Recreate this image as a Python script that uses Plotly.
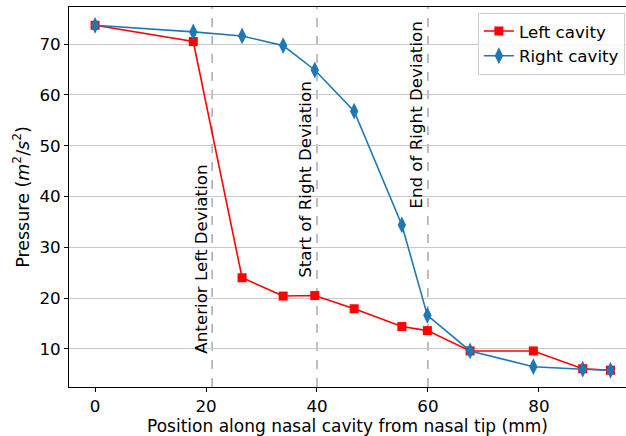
import plotly.graph_objects as go

pos = [0, 17.7, 26.5, 33.9, 39.6, 46.7, 55.3, 59.9, 67.6, 79.0, 87.9, 92.9]
left_cavity = [73.7, 70.5, 24.0, 20.4, 20.5, 17.9, 14.4, 13.6, 9.6, 9.6, 6.1, 5.8]
right_cavity = [73.7, 72.4, 71.6, 69.7, 64.9, 56.8, 34.4, 16.6, 9.6, 6.5, 6.0, 5.8]

vlines = [21.1, 40, 60]
vline_labels = ["Anterior Left Deviation", "Start of Right Deviation", "End of Right Deviation"]
vline_label_y = [8.6, 23.7, 37.3]

FONT = "DejaVu Sans"
FS = 16.7
fig = go.Figure()
fig.add_trace(go.Scatter(x=pos, y=left_cavity, mode="lines+markers", name="Left cavity",
                         line=dict(color="#ff0000", width=1.6),
                         marker=dict(symbol="square", size=9, color="#ff0000")))
fig.add_trace(go.Scatter(x=pos, y=right_cavity, mode="lines+markers", name="Right cavity",
                         line=dict(color="#1f77b4", width=1.6),
                         marker=dict(symbol="diamond-tall", size=12, color="#1f77b4")))

for xv, lab, ly in zip(vlines, vline_labels, vline_label_y):
    fig.add_shape(type="line", x0=xv, x1=xv, y0=0, y1=1, xref="x", yref="paper",
                  line=dict(color="#aaaaaa", width=1.5, dash="dash"), layer="below")
    fig.add_annotation(x=xv, y=ly, text=lab, textangle=-90, showarrow=False,
                       xanchor="right", yanchor="bottom", xshift=0,
                       font=dict(family=FONT, size=FS, color="black"))

fig.update_layout(
    width=626, height=436,
    margin=dict(l=69, r=0, t=7, b=49),
    plot_bgcolor="white", paper_bgcolor="white",
    font=dict(family=FONT, size=FS, color="black"),
    showlegend=True,
    legend=dict(x=0.998, y=0.985, xanchor="right", yanchor="top",
                bgcolor="rgba(255,255,255,0.8)", bordercolor="#d0d0d0", borderwidth=1,
                font=dict(family=FONT, size=FS)),
)
fig.update_xaxes(range=[-4.7, 95.7], tickvals=[0, 20, 40, 60, 80], showgrid=False,
                 showline=True, linecolor="black", linewidth=1, mirror=True,
                 ticks="outside", ticklen=4, tickcolor="black", zeroline=False,
                 tickfont=dict(family=FONT, size=FS),
                 title=dict(text="Position along nasal cavity from nasal tip (mm)", standoff=2,
                            font=dict(family=FONT, size=17)))
fig.update_yaxes(range=[2.5, 77.3], tickvals=[10, 20, 30, 40, 50, 60, 70], showgrid=True,
                 gridcolor="#c8c8c8", gridwidth=1,
                 showline=True, linecolor="black", linewidth=1,
                 ticks="outside", ticklen=4, tickcolor="black", zeroline=False,
                 tickfont=dict(family=FONT, size=FS),
                 title=dict(text="Pressure (<i>m</i><sup>2</sup>/<i>s</i><sup>2</sup>)", standoff=5,
                            font=dict(family=FONT, size=17.5)))

fig.write_html("out.html")
